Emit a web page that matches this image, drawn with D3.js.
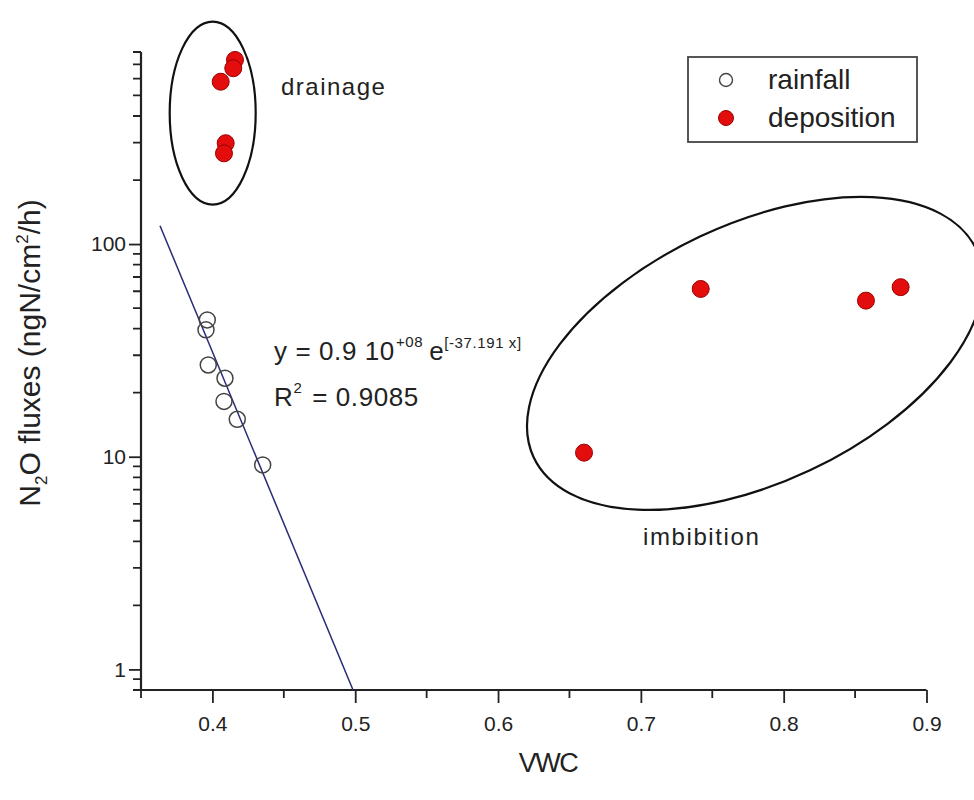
<!DOCTYPE html>
<html>
<head>
<meta charset="utf-8">
<script src="https://cdn.jsdelivr.net/npm/d3@7/dist/d3.min.js"></script>
<style>
  html, body { margin: 0; padding: 0; background: #fff; }
  svg { display: block; }
  text { font-family: "Liberation Sans", Arial, sans-serif; fill: #222; }
</style>
</head>
<body>
<svg id="chart" width="974" height="800"></svg>
<script>
// ---- data ----
const rainfallVWC  = [0.3964, 0.3955, 0.3971, 0.4088, 0.4081, 0.4174, 0.4352];
const rainfallFlux = [44, 39.5, 27, 23.4, 18.2, 15, 9.15];

const depositionVWC  = [0.4158, 0.4146, 0.4058, 0.4093, 0.4081, 0.7419, 0.6602, 0.8576, 0.8819];
const depositionFlux = [734, 671, 580, 298, 267, 61.5, 10.45, 54.2, 62.7];

const xTickMajor = [0.4, 0.5, 0.6, 0.7, 0.8, 0.9];
const xTickMinor = [0.35, 0.45, 0.55, 0.65, 0.75, 0.85];
const yTickMajor = [1, 10, 100];
const yTickMinor = [0.8, 0.9, 2, 3, 4, 5, 6, 7, 8, 9, 20, 30, 40, 50, 60, 70, 80, 90, 200, 300, 400, 500, 600, 700, 800];

const fitA = 0.9e8, fitB = -37.191, fitR2 = 0.9085;
const fitXStart = 0.3633;

const groupNames  = ["drainage", "imbibition"];
const groupCenterX = [0.4002, 0.7799];
const groupCenterY = [413, 30.6];

// ---- scales ----
const svg = d3.select("#chart");
const x = d3.scaleLinear().domain([0.35, 0.9]).range([141, 926.5]);
const y = d3.scaleLog().domain([0.8, 800]).range([690, 52]);

// ---- annotation ellipses ----
const ellipseShape = [{rx: 43, ry: 91.5, rot: 0}, {rx: 244.5, ry: 129.2, rot: -25.2}];
groupNames.forEach((g, i) => {
  svg.append("ellipse")
    .attr("transform", `translate(${x(groupCenterX[i])},${y(groupCenterY[i])}) rotate(${ellipseShape[i].rot})`)
    .attr("rx", ellipseShape[i].rx).attr("ry", ellipseShape[i].ry)
    .attr("fill", "none").attr("stroke", "#111").attr("stroke-width", 2.2);
});

// ---- axes ----
const axisColor = "#222";
const xAxisG = svg.append("g").attr("transform", `translate(0,${y(0.8)})`);
xAxisG.call(d3.axisBottom(x).tickValues(xTickMajor).tickSize(13).tickFormat(d3.format(".1f")));
xAxisG.call(g => g.select(".domain").remove());
xAxisG.selectAll(".tick line").attr("stroke", axisColor).attr("stroke-width", 1.8);
xAxisG.selectAll(".tick text").attr("font-size", 21).attr("fill", "#333").attr("dy", "1.2em")
  .style("font-family", "Liberation Sans, Arial, sans-serif");
xAxisG.append("path").attr("class", "x-minor")
  .attr("d", xTickMinor.map(d => `M${x(d)},0V8`).join(""))
  .attr("stroke", axisColor).attr("stroke-width", 1.8).attr("fill", "none");
xAxisG.append("line").attr("x1", x(0.35)).attr("x2", x(0.9)).attr("y1", 0).attr("y2", 0)
  .attr("stroke", axisColor).attr("stroke-width", 2.2);

const yAxisG = svg.append("g").attr("transform", `translate(${x(0.35)},0)`);
yAxisG.call(d3.axisLeft(y).tickValues(yTickMajor).tickSize(12).tickFormat(d3.format("d")));
yAxisG.call(g => g.select(".domain").remove());
yAxisG.selectAll(".tick line").attr("stroke", axisColor).attr("stroke-width", 1.8);
yAxisG.selectAll(".tick text").attr("font-size", 21).attr("fill", "#333").attr("x", -15)
  .style("font-family", "Liberation Sans, Arial, sans-serif");
yAxisG.append("path").attr("class", "y-minor")
  .attr("d", yTickMinor.map(d => `M-8,${y(d)}H0`).join(""))
  .attr("stroke", axisColor).attr("stroke-width", 1.8).attr("fill", "none");
yAxisG.append("line").attr("x1", 0).attr("x2", 0).attr("y1", y(0.8)).attr("y2", y(800))
  .attr("stroke", axisColor).attr("stroke-width", 2.2);

// ---- axis titles ----
svg.append("text").attr("x", 548).attr("y", 772).attr("text-anchor", "middle")
  .attr("font-size", 27).attr("letter-spacing", -1.5).text("VWC");

const yt = svg.append("text").attr("transform", "translate(40,353) rotate(-90)")
  .attr("text-anchor", "middle").attr("font-size", 30);
yt.append("tspan").text("N");
yt.append("tspan").attr("font-size", 17).attr("dy", 7).text("2");
yt.append("tspan").attr("dy", -7).text("O fluxes (ngN/cm");
yt.append("tspan").attr("font-size", 17).attr("dy", -12).text("2");
yt.append("tspan").attr("dy", 12).text("/h)");

// ---- fit line ----
const fitXEnd = Math.log(0.8 / fitA) / fitB;
const fitPts = [fitXStart, fitXEnd].map(v => [v, fitA * Math.exp(fitB * v)]);
svg.append("path")
  .attr("d", d3.line().x(d => x(d[0])).y(d => y(d[1]))(fitPts))
  .attr("fill", "none").attr("stroke", "#2a2a78").attr("stroke-width", 1.5);

// ---- points ----
svg.append("g").selectAll("circle").data(d3.zip(rainfallVWC, rainfallFlux)).enter()
  .append("circle").attr("cx", d => x(d[0])).attr("cy", d => y(d[1])).attr("r", 8)
  .attr("fill", "none").attr("stroke", "#444").attr("stroke-width", 1.5);

svg.append("g").selectAll("circle").data(d3.zip(depositionVWC, depositionFlux)).enter()
  .append("circle").attr("cx", d => x(d[0])).attr("cy", d => y(d[1])).attr("r", 8.5)
  .attr("fill", "#e30d0d").attr("stroke", "#9a0000").attr("stroke-width", 1);

// ---- group labels ----
svg.append("text").attr("x", 281).attr("y", 95).attr("font-size", 24).attr("letter-spacing", 1.5)
  .attr("fill", "#333").text(groupNames[0]);
svg.append("text").attr("x", 643).attr("y", 545).attr("font-size", 24).attr("letter-spacing", 1.6)
  .attr("fill", "#333").text(groupNames[1]);

// ---- equation ----
const eq = svg.append("text").attr("x", 274).attr("y", 360).attr("font-size", 26).attr("letter-spacing", 0.6);
eq.append("tspan").text("y = 0.9 10");
eq.append("tspan").attr("font-size", 15).attr("dy", -13).attr("dx", 1).text("+08");
eq.append("tspan").attr("dy", 13).attr("dx", 6).text("e");
eq.append("tspan").attr("font-size", 15).attr("dy", -12).text(`[${fitB} x]`);

const r2 = svg.append("text").attr("x", 274).attr("y", 406).attr("font-size", 26).attr("letter-spacing", 0.6);
r2.append("tspan").text("R");
r2.append("tspan").attr("font-size", 15).attr("dy", -13).text("2");
r2.append("tspan").attr("dy", 13).attr("dx", 2).text(` = ${fitR2}`);

// ---- legend ----
const lg = svg.append("g");
lg.append("rect").attr("x", 688).attr("y", 57).attr("width", 229).attr("height", 85)
  .attr("fill", "#fff").attr("stroke", "#444").attr("stroke-width", 1.8);
lg.append("circle").attr("cx", 726).attr("cy", 80).attr("r", 6.5)
  .attr("fill", "none").attr("stroke", "#444").attr("stroke-width", 1.4);
lg.append("circle").attr("cx", 726).attr("cy", 118).attr("r", 7.5)
  .attr("fill", "#e30d0d").attr("stroke", "#9a0000").attr("stroke-width", 1);
lg.append("text").attr("x", 768).attr("y", 89).attr("font-size", 28).text("rainfall");
lg.append("text").attr("x", 768).attr("y", 127).attr("font-size", 28).text("deposition");
</script>
</body>
</html>
